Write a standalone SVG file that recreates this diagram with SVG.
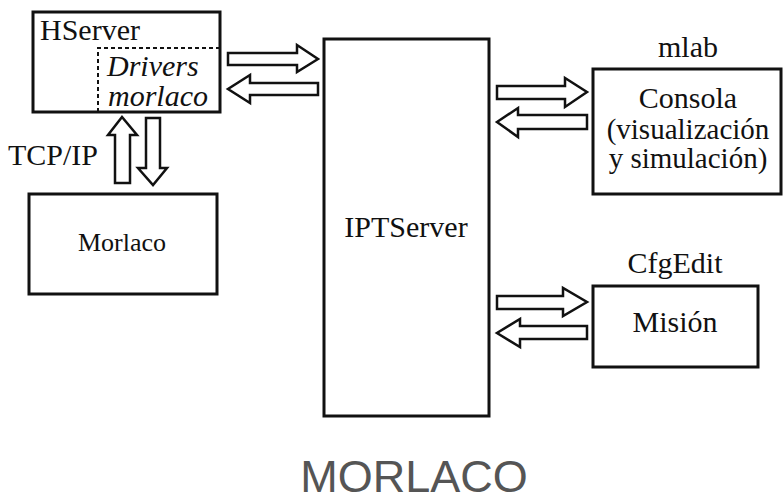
<svg xmlns="http://www.w3.org/2000/svg" width="783" height="499" viewBox="0 0 783 499">
<style>
.box{fill:#fff;stroke:#111;stroke-width:3}
.arr{fill:#fff;stroke:#111;stroke-width:2.5;stroke-linejoin:miter}
.dash{fill:none;stroke:#111;stroke-width:2;stroke-dasharray:4 3}
text{font-family:"Liberation Serif","Times New Roman",serif;fill:#111}
.t30{font-size:30px}
.t29{font-size:29px}
.mid{text-anchor:middle}
.it{font-style:italic}
.title{font-family:"Liberation Sans",Arial,sans-serif;font-size:45px;fill:#555}
</style>
<rect width="783" height="499" fill="#fff"/>
<g id="hserver">
<rect class="box" x="33" y="12" width="187" height="100"/>
<polyline class="dash" points="98,112 98,48 220,48"/>
<text class="t30" x="40" y="40">HServer</text>
<text class="t30 it" x="107" y="76">Drivers</text>
<text class="t30 it" x="108" y="106">morlaco</text>
</g>
<g id="morlaco">
<rect class="box" x="29" y="194" width="188" height="100"/>
<text class="mid" x="122" y="251" font-size="26">Morlaco</text>
</g>
<g id="iptserver">
<rect class="box" x="324" y="39" width="165" height="377"/>
<text class="t30 mid" x="406" y="237">IPTServer</text>
</g>
<g id="consola">
<text class="t30 mid" x="688" y="57">mlab</text>
<rect class="box" x="593" y="69" width="188" height="125"/>
<text class="t30 mid" x="688" y="108">Consola</text>
<text class="t29 mid" x="688" y="139">(visualización</text>
<text class="t29 mid" x="688" y="168">y simulación)</text>
</g>
<g id="mision">
<text class="t30 mid" x="675" y="273">CfgEdit</text>
<rect class="box" x="593" y="286" width="165" height="81"/>
<text class="t30 mid" x="675" y="332">Misión</text>
</g>
<g id="tcpip-label">
<text class="t30" x="8" y="165">TCP/IP</text>
</g>
<g id="connectors">
<polygon class="arr" points="228,53 297,53 297,45 318,59 297,72 297,65 228,65"/>
<polygon class="arr" points="318,83 250,83 250,75 228,89 250,103 250,95 318,95"/>
<polygon class="arr" points="115,183 115,135 108,135 122,117 137,135 130,135 130,183"/>
<polygon class="arr" points="146,118 160,118 160,168 167,168 153,185 138,168 146,168"/>
<polygon class="arr" points="497,86 565,86 565,78 587,92 565,107 565,99 497,99"/>
<polygon class="arr" points="587,115 518,115 518,108 497,122 518,137 518,129 587,129"/>
<polygon class="arr" points="497,296 563,296 563,288 587,302 563,316 563,309 497,309"/>
<polygon class="arr" points="587,326 520,326 520,319 497,333 520,347 520,339 587,339"/>
</g>
<text class="title mid" x="414" y="492">MORLACO</text>
</svg>
